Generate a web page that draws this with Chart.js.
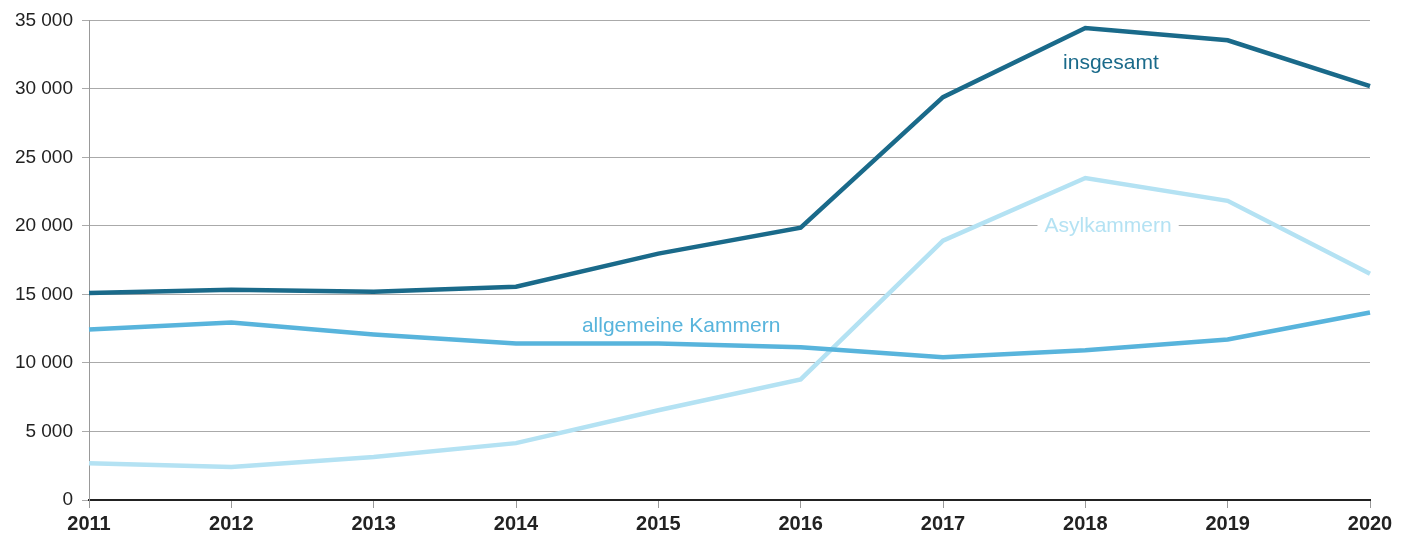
<!DOCTYPE html>
<html><head><meta charset="utf-8">
<script src="https://cdn.jsdelivr.net/npm/chart.js@4/dist/chart.umd.min.js"></script>
<style>html,body{margin:0;padding:0;background:#fff;}#wrap{width:1414px;height:541px;}</style>
</head><body><div id="wrap"><canvas id="c"></canvas></div>
<script>
const years = ['2011','2012','2013','2014','2015','2016','2017','2018','2019','2020'];
const insgesamt = [15100,15350,15200,15570,17980,19870,29400,34450,33550,30200];
const allgemeineKammern = [12450,12950,12080,11430,11430,11140,10420,10920,11720,13680];
const asylkammern = [2690,2400,3130,4150,6550,8800,18920,23500,21830,16520];
const yTicks = [0,5000,10000,15000,20000,25000,30000,35000];
const seriesNames = ['insgesamt','allgemeine Kammern','Asylkammern'];
const colors = ['#1a6a8a','#58b4dc','#b4e2f3'];

const FONT = '"Liberation Sans", Arial, Helvetica, sans-serif';

const labelPlugin = {
  id: 'seriesLabels',
  beforeDatasetsDraw(chart) {
    const {ctx, scales:{x, y}} = chart;
    const items = [
      {text: seriesNames[0], xi: 7.18, v: 31900, color: colors[0], bg: false},
      {text: seriesNames[1], xi: 4.16, v: 12700, color: colors[1], bg: false},
      {text: seriesNames[2], xi: 7.16, v: 19950, color: colors[2], bg: true}
    ];
    ctx.save();
    ctx.font = '21px ' + FONT;
    ctx.textAlign = 'center';
    ctx.textBaseline = 'middle';
    items.forEach(it => {
      const px = x.getPixelForValue(it.xi);
      const py = y.getPixelForValue(it.v);
      if (it.bg) {
        const w = ctx.measureText(it.text).width + 14;
        ctx.fillStyle = '#fff';
        ctx.fillRect(px - w/2, py - 12, w, 24);
      }
      ctx.fillStyle = it.color;
      ctx.fillText(it.text, px, py);
    });
    ctx.restore();
  }
};

new Chart(document.getElementById('c'), {
  type: 'line',
  data: {
    labels: years,
    datasets: [
      {label: seriesNames[1], data: allgemeineKammern, borderColor: colors[1]},
      {label: seriesNames[2], data: asylkammern, borderColor: colors[2]},
      {label: seriesNames[0], data: insgesamt, borderColor: colors[0]}
    ].map(d => Object.assign(d, {borderWidth: 4.5, pointRadius: 0, tension: 0, fill: false, borderJoinStyle: 'miter'}))
  },
  options: {
    responsive: true,
    maintainAspectRatio: false,
    animation: false,
    layout: {padding: {top: 19, right: 44, left: 0, bottom: 0}},
    plugins: {legend: {display: false}, tooltip: {enabled: false}},
    scales: {
      x: {
        offset: false,
        grid: {drawOnChartArea: false, drawTicks: true, tickLength: 8, color: '#999', lineWidth: 1},
        border: {color: '#222', width: 2},
        ticks: {color: '#222', font: {family: FONT, size: 20, weight: 'bold'}, padding: 4, maxRotation: 0, autoSkip: false},
        afterFit: s => { s.height = 41; }
      },
      y: {
        min: 0, max: 35000,
        afterBuildTicks: s => { s.ticks = yTicks.map(v => ({value: v})); },
        grid: {color: '#aaa', lineWidth: 1, tickLength: 7, drawTicks: true},
        border: {color: '#999', width: 1},
        ticks: {color: '#222', font: {family: FONT, size: 19}, padding: 9,
          callback: v => String(v).replace(/\B(?=(\d{3})+(?!\d))/g, ' ')},
        afterFit: s => { s.width = 89; }
      }
    }
  },
  plugins: [labelPlugin]
});
</script></body></html>
